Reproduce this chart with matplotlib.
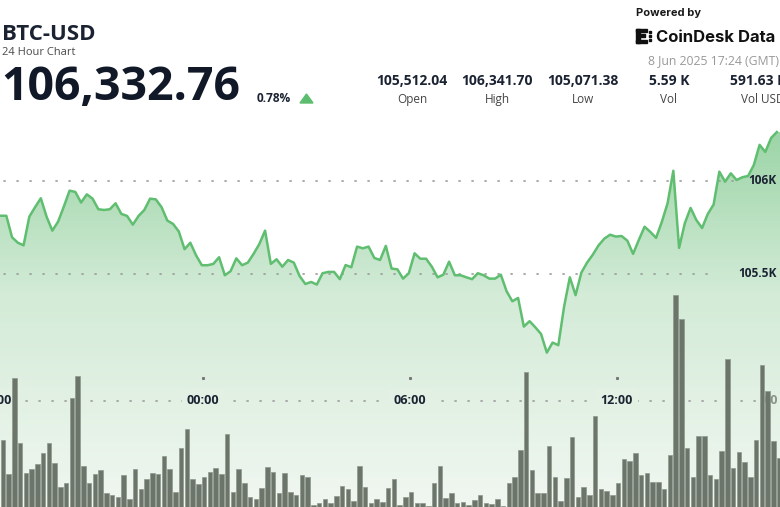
import numpy as np
import matplotlib.pyplot as plt
from matplotlib.colors import LinearSegmentedColormap
from matplotlib.transforms import blended_transform_factory
from matplotlib.patches import Polygon, Rectangle

plt.rcParams['font.family'] = ['Open Sans', 'DejaVu Sans']

# 10 minute slots, slot 0 = 18:08 of the previous day
start_minute = -352

price = [
    105813, 105813, 105697, 105668, 105654, 105808, 105859, 105907, 105808, 105733,
    105781, 105862, 105948, 105941, 105884, 105928, 105905, 105848, 105844, 105848,
    105880, 105823, 105812, 105765, 105812, 105844, 105905, 105901, 105859, 105787,
    105769, 105728, 105633, 105668, 105600, 105547, 105547, 105554, 105590, 105493,
    105515, 105584, 105547, 105561, 105608, 105661, 105733, 105554, 105579, 105539,
    105575, 105561, 105489, 105446, 105457, 105443, 105504, 105511, 105511, 105472,
    105548, 105536, 105647, 105638, 105647, 105586, 105575, 105651, 105529, 105525,
    105475, 105504, 105611, 105582, 105582, 105539, 105482, 105496, 105566, 105493,
    105493, 105482, 105472, 105504, 105493, 105475, 105475, 105496, 105407, 105353,
    105371, 105217, 105246, 105213, 105177, 105077, 105131, 105117, 105324, 105482,
    105386, 105507, 105561, 105604, 105654, 105690, 105711, 105701, 105704, 105679,
    105608, 105683, 105754, 105726, 105694, 105780, 105880, 106055, 105640, 105773,
    105855, 105790, 105747, 105823, 105873, 106050, 105996, 106041, 106005, 106020,
    106027, 106086, 106194, 106156, 106231, 106263,
]

# volume per slot, first value belongs to slot -1
volume = [
    107,
    67, 33, 129, 64, 34, 38, 43, 54, 64, 44,
    20, 24, 109, 131, 41, 24, 33, 37, 14, 12,
    10, 32, 8, 38, 18, 28, 34, 33, 51, 38,
    15, 59, 78, 28, 23, 30, 35, 39, 33, 73,
    15, 38, 24, 10, 8, 19, 40, 35, 14, 34,
    15, 12, 32, 30, 2, 4, 8, 4, 11, 21,
    18, 6, 41, 20, 4, 8, 5, 19, 28, 2,
    10, 15, 4, 4, 1, 24, 41, 9, 14, 4,
    5, 2, 7, 12, 4, 3, 8, 1, 24, 30,
    57, 135, 37, 14, 14, 61, 30, 6, 29, 70,
    10, 20, 12, 91, 18, 16, 12, 24, 48, 46,
    54, 32, 34, 25, 25, 18, 52, 212, 188, 59,
    30, 71, 71, 32, 28, 56, 148, 39, 55, 45,
    30, 67, 142, 116, 66, 49,
]

tick_times = ['18:00', '00:00', '06:00', '12:00']
tick_minutes = [-360, 0, 360, 720]

grid_levels = [106000, 105500]
grid_labels = ['106K', '105.5K']

stat_values = ['105,512.04', '106,341.70', '105,071.38', '5.59 K', '591.63 M']
stat_names = ['Open', 'High', 'Low', 'Vol', 'Vol USD']

W, H = 780, 507
dark = '#1b2333'


def fx(px):
    return px / W


def fy(py):
    return 1 - py / H


slots = np.arange(len(price))
vol_slots = np.arange(len(volume)) - 1 + 0.4
x0, x1 = -0.1, 135.55
y0, y1 = 104247, 106973

fig = plt.figure(figsize=(W / 100, H / 100), dpi=100)
ax = fig.add_axes([0, 0, 1, 1])
ax.set_xlim(x0, x1)
ax.set_ylim(y0, y1)
ax.axis('off')

# gradient area under the line
cmap = LinearSegmentedColormap.from_list(
    'fade', [(0, '#98d3a3'), (0.45, '#d3ebd7'), (1, '#f1f7f1')])
grad = np.linspace(0, 1, 256).reshape(-1, 1)
im = ax.imshow(grad, cmap=cmap, extent=(x0, x1, y0, 106330),
               aspect='auto', origin='upper', zorder=1)
verts = ([(x0, y0), (x0, price[0])] + list(zip(slots, price))
         + [(x1, price[-1]), (x1, y0)])
area = Polygon(verts, closed=True, facecolor='none', edgecolor='none')
ax.add_patch(area)
im.set_clip_path(area)

ax.plot(slots, price, color='#5fbe70', lw=1.8,
        solid_joinstyle='round', zorder=3)

# price grid lines and labels
bt = blended_transform_factory(ax.transAxes, ax.transData)
grid_ends = [743, 717]
for lvl, lab, end in zip(grid_levels, grid_labels, grid_ends):
    ax.plot([fx(4), fx(end)], [lvl, lvl], transform=bt, color='#9c9c9c',
            lw=1.2, ls=(0, (0.7, 7.1)), dash_capstyle='round', zorder=2)
    ax.text(fx(777), lvl, lab, transform=bt, ha='right', va='center',
            fontsize=8.6, fontweight='bold', color=dark, zorder=4)

# time axis
tx = blended_transform_factory(ax.transData, ax.transAxes)
ax.plot([0, 1], [fy(401), fy(401)], transform=ax.transAxes, color='#9c9c9c',
        lw=1.2, ls=(0, (0.7, 7.1)), dash_capstyle='round', zorder=2)
label_bg = cmap(0.72)
for t, m in zip(tick_times, tick_minutes):
    xs = (m - start_minute) / 10
    ax.text(xs, fy(400), t, transform=tx, ha='center', va='center',
            fontsize=9, fontweight='bold', color=dark, zorder=2.5,
            bbox=dict(boxstyle='square,pad=0.35', fc=label_bg, ec='none'))
    ax.plot([xs], [fy(378)], transform=tx, marker='s', ms=1.2,
            color='#777777', zorder=2.5)
ax.text(fx(778), fy(400), '00', transform=ax.transAxes, ha='right',
        va='center', fontsize=9, fontweight='bold', color='#8a938a', zorder=2)

# volume bars
axv = ax.twinx()
axv.set_ylim(0, H)
axv.axis('off')
axv.bar(vol_slots, volume, width=0.8, color='#6c7569',
        edgecolor='#8f988d', linewidth=0.5, zorder=3)

# header
fig.text(fx(2), fy(40.5), 'BTC-USD', fontsize=16, fontweight='bold',
         color=dark, va='baseline')
fig.text(fx(2), fy(55), '24 Hour Chart', fontsize=8, color='#4a4a4a',
         va='baseline')
fig.text(fx(1), fy(100), '106,332.76', fontsize=33.5, fontweight='bold',
         color='#111827', va='baseline')
fig.text(fx(257), fy(102), '0.78%', fontsize=8.6, fontweight='bold',
         color=dark, va='baseline')
fig.add_artist(Polygon([(fx(300), fy(103)), (fx(313), fy(103)),
                        (fx(306.5), fy(94))], closed=True,
                       transform=fig.transFigure, color='#5dbd6f'))

stat_centers = [412, 497, 583, 669, 760]
label_centers = [412, 497, 583, 669, 763]
for cx, lx, v, n in zip(stat_centers, label_centers, stat_values, stat_names):
    fig.text(fx(cx), fy(85), v, fontsize=10, fontweight='bold', color=dark,
             ha='center', va='baseline')
    fig.text(fx(lx), fy(103), n, fontsize=8.5, color='#444444',
             ha='center', va='baseline')

fig.text(fx(636), fy(16), 'Powered by', fontsize=8, fontweight='bold',
         color='#1a1a1a', va='baseline', family=['Inter', 'DejaVu Sans'])
fig.text(fx(656), fy(42), 'CoinDesk Data', fontsize=12, fontweight='bold',
         color='#111111', va='baseline', family=['Inter', 'DejaVu Sans'])
for (l, t, w, h) in [(636, 29, 4, 14), (636, 29, 11, 3), (636, 40, 11, 3),
                     (640, 34.5, 5, 2.5), (649, 31, 2, 2), (649, 35, 2, 2),
                     (649, 39, 2, 2)]:
    fig.add_artist(Rectangle((fx(l), fy(t + h)), w / W, h / H,
                             transform=fig.transFigure, color='#111111'))
fig.text(fx(648), fy(64), '8 Jun 2025 17:24 (GMT)', fontsize=8.8,
         color='#999999', va='baseline')

fig.savefig('out.png', dpi=100)
